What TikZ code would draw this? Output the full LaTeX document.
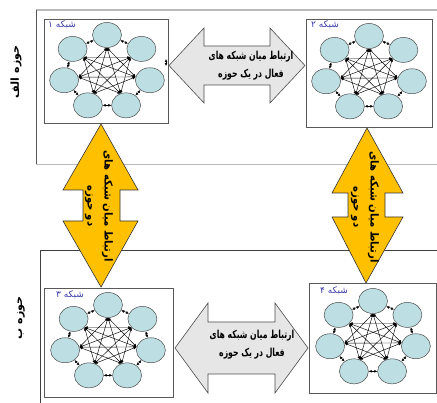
\documentclass[tikz,border=0pt]{standalone}
\usepackage{fontspec}
\newfontfamily\arabicfont[Script=Arabic]{DejaVu Sans}
\TeXXeTstate=1
\usetikzlibrary{arrows.meta,shapes.geometric}

\definecolor{netfill}{RGB}{189,222,226}
\definecolor{goldfill}{RGB}{255,192,0}
\definecolor{barfill}{RGB}{230,230,230}
\definecolor{labelblue}{RGB}{60,60,170}

\tikzset{
  netnode/.style={ellipse, draw=gray!60!black, fill=netfill, minimum width=29pt, minimum height=25pt, inner sep=0pt, line width=0.5pt},
  netbox/.style={draw=gray!70!black, fill=white, line width=0.7pt},
  link/.style={{Latex[length=3pt,width=2.8pt]}-{Latex[length=3pt,width=2.8pt]}, line width=0.45pt},
  bararrow/.style={draw=gray!60!black, fill=barfill, line width=0.6pt},
  goldarrow/.style={draw=black!80, fill=goldfill, line width=0.6pt},
  bartext/.style={font=\arabicfont\bfseries\fontsize{11}{18}\selectfont, align=center, inner sep=0pt},
  goldtext/.style={font=\arabicfont\bfseries\fontsize{11}{17}\selectfont, align=center, inner sep=0pt, rotate=-90},
  domtext/.style={font=\arabicfont\bfseries\fontsize{11}{12}\selectfont, inner sep=0pt, rotate=90},
  netlabel/.style={font=\arabicfont\fontsize{9}{10}\selectfont, text=labelblue, inner sep=0pt}
}

\begin{document}
\begin{tikzpicture}[x=1pt,y=-1pt]
    \useasboundingbox (0,0) rectangle (437,403);

    % frames of the two domains
    \draw[gray!55, line width=1.2pt] (437,10) -- (36,10);
    \draw[gray!70!black, line width=0.7pt] (36,10) -- (36,165);
    \draw[gray!55, line width=1pt] (36,165) -- (437,165);
    \draw[gray!50!black, line width=0.8pt] (437,250) -- (40,250) -- (40,403);

    \node[domtext] (domA) at (16,72) {\beginR حوزه الف\endR};
    \node[domtext] (domB) at (21,318) {\beginR حوزه ب\endR};

    % network boxes
    \draw[netbox] (44,19) rectangle (168,123);
    \draw[netbox] (306,19) rectangle (432,127);
    \draw[netbox] (44,288) rectangle (173,397);
    \draw[netbox] (309,283) rectangle (436,393);

    \node[netlabel] (lab1) at (62,25)  {\beginR شبکه ۱\endR};
    \node[netlabel] (lab2) at (325,25) {\beginR شبکه ۲\endR};
    \node[netlabel] (lab3) at (70,295) {\beginR شبکه ۳\endR};
    \node[netlabel] (lab4) at (334,291) {\beginR شبکه ۴\endR};

    % seven nodes in each network
    \foreach \k/\cx/\cy in {1/107/72, 2/369/73, 3/108/342, 4/373/338} {
        \foreach \i in {1,...,7} {
            \pgfmathsetmacro\a{90-(\i-1)*360/7}
            \pgfmathtruncatemacro\b{\a+180}
            \node[netnode] (net\k-\i) at ({\cx+44*cos(\a)},{\cy-37*sin(\a)}) {};
            \coordinate (hub\k-\i) at (net\k-\i.\b);
        }
        % ring links
        \foreach \i/\j in {1/2,3/4,4/5,5/6,6/7,7/1}
            \draw[link] (net\k-\i) -- (net\k-\j);
        % cross links
        \foreach \i/\j in {1/3,1/4,1/5,1/6,2/4,2/5,2/6,2/7,3/5,3/6,3/7,4/6,4/7,5/7}
            \draw[link] (hub\k-\i) -- (hub\k-\j);
    }
    \draw[link] (net3-2) -- (net3-3);
    \draw[link] (net4-2) -- (net4-3);

    % stray link at the side of network 1
    \coordinate (stubA) at (166,59);
    \coordinate (stubB) at (166,66);
    \draw[link] (stubA) -- (stubB);

    % arrows inside a domain
    \draw[bararrow] (169,65.5) -- (204,28) -- (204,46) -- (270,46) -- (270,28) -- (305,65.5)
        -- (270,103) -- (270,85) -- (204,85) -- (204,103) -- cycle;
    \node[bartext] (inA) at (251,66) {\scalebox{0.7}[1]{\beginR ارتباط میان شبکه های\endR}\\\scalebox{0.7}[1]{\beginR فعال در یک حوزه\endR}};

    \draw[bararrow] (175,348) -- (208,303) -- (208,322) -- (275,322) -- (275,303) -- (308,348)
        -- (275,393) -- (275,374) -- (208,374) -- (208,393) -- cycle;
    \node[bartext] (inB) at (252,345) {\scalebox{0.7}[1]{\beginR ارتباط میان شبکه های\endR}\\\scalebox{0.7}[1]{\beginR فعال در یک حوزه\endR}};

    % arrows between the domains
    \draw[goldarrow] (101,124) -- (63,190) -- (83,190) -- (83,221) -- (63,221) -- (101,287)
        -- (138,221) -- (120,221) -- (120,190) -- (138,190) -- cycle;
    \node[goldtext] (crossL) at (99,206) {\scalebox{0.92}[1]{\beginR ارتباط میان شبکه های\endR}\\\scalebox{0.92}[1]{\beginR دو حوزه\endR}};

    \draw[goldarrow] (367,128) -- (332,193) -- (348,193) -- (348,217) -- (332,217) -- (366,283)
        -- (403,217) -- (385,217) -- (385,193) -- (403,193) -- cycle;
    \node[goldtext] (crossR) at (365,207) {\scalebox{0.92}[1]{\beginR ارتباط میان شبکه های\endR}\\\scalebox{0.92}[1]{\beginR دو حوزه\endR}};
\end{tikzpicture}
\end{document}
